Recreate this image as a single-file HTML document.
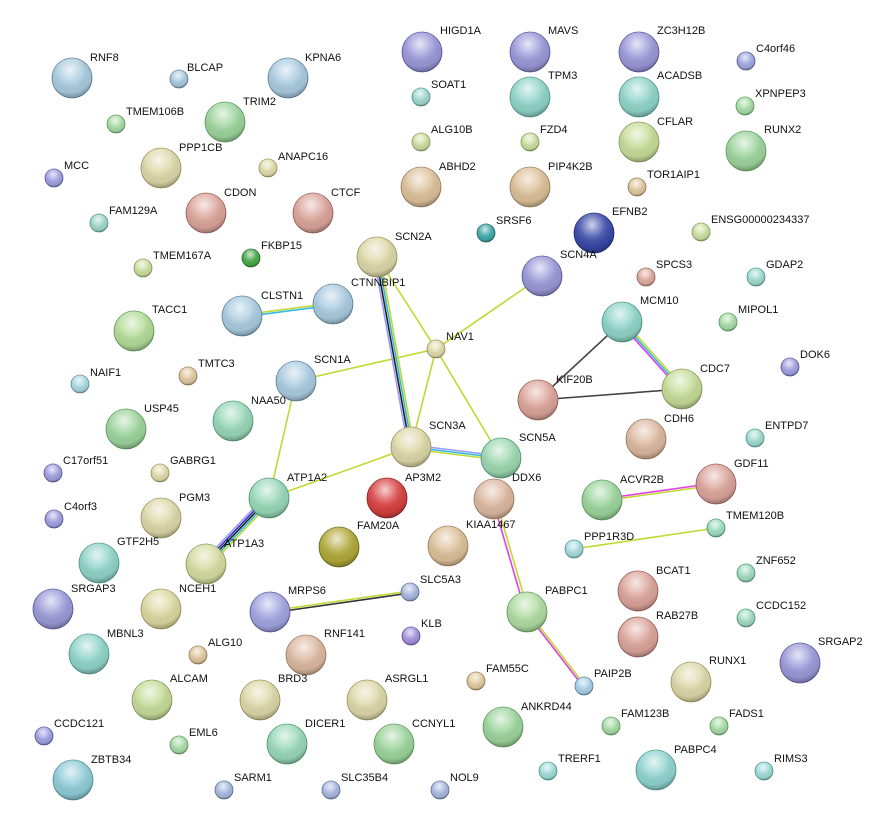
<!DOCTYPE html>
<html><head><meta charset="utf-8"><style>
html,body{margin:0;padding:0;background:#fff;}
svg{display:block;}
text{font-family:"Liberation Sans",Arial,sans-serif;font-size:11px;fill:#111;}
</style></head><body>
<svg width="870" height="835" viewBox="0 0 870 835" xmlns="http://www.w3.org/2000/svg">
<defs>
<radialGradient id="h" cx="0.45" cy="0.3" r="0.7">
<stop offset="0" stop-color="#fff" stop-opacity="0.75"/>
<stop offset="0.45" stop-color="#fff" stop-opacity="0.15"/>
<stop offset="0.8" stop-color="#000" stop-opacity="0.05"/>
<stop offset="1" stop-color="#000" stop-opacity="0.3"/>
</radialGradient>
</defs>
<g fill="none" stroke-width="1.6">
<g stroke="#c0d830">
<line x1="377" y1="257" x2="436" y2="349"/>
<line x1="542" y1="276" x2="436" y2="349"/>
<line x1="296" y1="381" x2="436" y2="349"/>
<line x1="436" y1="349" x2="411" y2="447"/>
<line x1="436" y1="349" x2="501" y2="458"/>
<line x1="411" y1="447" x2="269" y2="498"/>
<line x1="296" y1="381" x2="269" y2="498"/>
<line x1="574" y1="549" x2="716" y2="528"/>
</g>
<line x1="374.05" y1="257.53" x2="408.05" y2="447.53" stroke="#9a9aff"/>
<line x1="376" y1="257.2" x2="410" y2="447.2" stroke="#222"/>
<line x1="378" y1="256.8" x2="412" y2="446.8" stroke="#30b8e0"/>
<line x1="379.95" y1="256.47" x2="413.95" y2="446.47" stroke="#c0d830"/>
<line x1="411.24" y1="445.01" x2="501.24" y2="456.01" stroke="#9a9aff"/>
<line x1="411" y1="447" x2="501" y2="458" stroke="#30b8e0"/>
<line x1="410.76" y1="448.99" x2="500.76" y2="459.99" stroke="#c0d830"/>
<line x1="241.87" y1="315.01" x2="332.87" y2="303.01" stroke="#c0d830"/>
<line x1="242.13" y1="316.99" x2="333.13" y2="304.99" stroke="#30b8e0"/>
<line x1="266.12" y1="495.24" x2="203.12" y2="561.24" stroke="#9a9aff"/>
<line x1="267.56" y1="496.62" x2="204.56" y2="562.62" stroke="#3030c0"/>
<line x1="269" y1="498" x2="206" y2="564" stroke="#222"/>
<line x1="270.44" y1="499.38" x2="207.44" y2="565.38" stroke="#30b8e0"/>
<line x1="271.88" y1="500.76" x2="208.88" y2="566.76" stroke="#c0d830"/>
<line x1="269.86" y1="611.01" x2="409.86" y2="591.01" stroke="#c0d830"/>
<line x1="270.14" y1="612.99" x2="410.14" y2="592.99" stroke="#333"/>
<line x1="620.51" y1="323.33" x2="680.51" y2="390.33" stroke="#e040e0"/>
<line x1="622" y1="322" x2="682" y2="389" stroke="#30b8e0"/>
<line x1="623.49" y1="320.67" x2="683.49" y2="387.67" stroke="#c0d830"/>
<line x1="622" y1="322" x2="538" y2="400" stroke="#444"/>
<line x1="538" y1="400" x2="682" y2="389" stroke="#444"/>
<line x1="601.86" y1="499.01" x2="715.86" y2="483.01" stroke="#e040e0"/>
<line x1="602.14" y1="500.99" x2="716.14" y2="484.99" stroke="#c0d830"/>
<line x1="492.56" y1="499.42" x2="525.56" y2="612.42" stroke="#e040e0"/>
<line x1="495.44" y1="498.58" x2="528.44" y2="611.58" stroke="#c0d830"/>
<line x1="526.21" y1="612.61" x2="583.21" y2="686.61" stroke="#e040e0"/>
<line x1="527.79" y1="611.39" x2="584.79" y2="685.39" stroke="#c0d830"/>
</g>
<g stroke-width="0.8">
<circle cx="72" cy="78" r="20" fill="#a9cbe0" stroke="#5a7f95"/>
<circle cx="179" cy="79" r="9" fill="#a9cbe0" stroke="#5a7f95"/>
<circle cx="288" cy="78" r="20" fill="#a9cbe0" stroke="#5a7f95"/>
<circle cx="422" cy="52" r="20" fill="#9a98d8" stroke="#55539a"/>
<circle cx="530" cy="52" r="20" fill="#9a98d8" stroke="#55539a"/>
<circle cx="639" cy="52" r="20" fill="#9a98d8" stroke="#55539a"/>
<circle cx="746" cy="61" r="9" fill="#a0a8e0" stroke="#55539a"/>
<circle cx="421" cy="97" r="9" fill="#a0d8d0" stroke="#4a948a"/>
<circle cx="530" cy="97" r="20" fill="#8fd4c8" stroke="#4a948a"/>
<circle cx="639" cy="97" r="20" fill="#8fd4c8" stroke="#4a948a"/>
<circle cx="745" cy="106" r="9" fill="#a8dca8" stroke="#5a985a"/>
<circle cx="116" cy="124" r="9" fill="#a8dca8" stroke="#5a985a"/>
<circle cx="225" cy="122" r="20" fill="#9cd49c" stroke="#5a985a"/>
<circle cx="746" cy="151" r="20" fill="#9cd49c" stroke="#5a985a"/>
<circle cx="421" cy="142" r="9" fill="#cce0a0" stroke="#84985a"/>
<circle cx="530" cy="142" r="9" fill="#cce0a0" stroke="#84985a"/>
<circle cx="639" cy="142" r="20" fill="#c6dc98" stroke="#84985a"/>
<circle cx="54" cy="178" r="9" fill="#a0a0e0" stroke="#55539a"/>
<circle cx="161" cy="168" r="20" fill="#ddd8a8" stroke="#98925a"/>
<circle cx="268" cy="168" r="9" fill="#e0dcac" stroke="#98925a"/>
<circle cx="421" cy="187" r="20" fill="#dcc098" stroke="#987a5a"/>
<circle cx="530" cy="187" r="20" fill="#dcc098" stroke="#987a5a"/>
<circle cx="637" cy="187" r="9" fill="#e0c8a0" stroke="#987a5a"/>
<circle cx="99" cy="223" r="9" fill="#a0d8c8" stroke="#4a948a"/>
<circle cx="206" cy="213" r="20" fill="#dba49a" stroke="#985a55"/>
<circle cx="313" cy="213" r="20" fill="#dba49a" stroke="#985a55"/>
<circle cx="486" cy="233" r="9" fill="#40a8a8" stroke="#206868"/>
<circle cx="594" cy="233" r="20" fill="#3848a8" stroke="#202868"/>
<circle cx="701" cy="232" r="9" fill="#cce0a0" stroke="#84985a"/>
<circle cx="251" cy="258" r="9" fill="#48a848" stroke="#286828"/>
<circle cx="143" cy="268" r="9" fill="#cce0a0" stroke="#84985a"/>
<circle cx="377" cy="257" r="20" fill="#ddd8a8" stroke="#98925a"/>
<circle cx="542" cy="276" r="20" fill="#9a98d8" stroke="#55539a"/>
<circle cx="646" cy="277" r="9" fill="#e0aca0" stroke="#985a55"/>
<circle cx="756" cy="277" r="9" fill="#a0dcd0" stroke="#4a948a"/>
<circle cx="242" cy="316" r="20" fill="#a9cbe0" stroke="#5a7f95"/>
<circle cx="333" cy="304" r="20" fill="#a9cbe0" stroke="#5a7f95"/>
<circle cx="134" cy="331" r="20" fill="#b4dc98" stroke="#5a985a"/>
<circle cx="622" cy="322" r="20" fill="#8fd4c8" stroke="#4a948a"/>
<circle cx="728" cy="322" r="9" fill="#a8dca8" stroke="#5a985a"/>
<circle cx="436" cy="349" r="9" fill="#e0dcac" stroke="#98925a"/>
<circle cx="80" cy="384" r="9" fill="#a8d8e0" stroke="#5a8f95"/>
<circle cx="188" cy="376" r="9" fill="#e0c8a0" stroke="#987a5a"/>
<circle cx="296" cy="381" r="20" fill="#a9cbe0" stroke="#5a7f95"/>
<circle cx="790" cy="367" r="9" fill="#a0a0e0" stroke="#55539a"/>
<circle cx="682" cy="389" r="20" fill="#c6dc98" stroke="#84985a"/>
<circle cx="538" cy="400" r="20" fill="#dba49a" stroke="#985a55"/>
<circle cx="126" cy="429" r="20" fill="#9cd49c" stroke="#5a985a"/>
<circle cx="233" cy="421" r="20" fill="#98d8b8" stroke="#4a9470"/>
<circle cx="411" cy="447" r="20" fill="#ddd8a8" stroke="#98925a"/>
<circle cx="646" cy="439" r="20" fill="#dcb8a0" stroke="#987a5a"/>
<circle cx="755" cy="438" r="9" fill="#a0dcd0" stroke="#4a948a"/>
<circle cx="53" cy="473" r="9" fill="#a0a0e0" stroke="#55539a"/>
<circle cx="160" cy="473" r="9" fill="#e0dcac" stroke="#98925a"/>
<circle cx="501" cy="458" r="20" fill="#9cd8b0" stroke="#4a9470"/>
<circle cx="716" cy="484" r="20" fill="#dba49a" stroke="#985a55"/>
<circle cx="269" cy="498" r="20" fill="#98d8b8" stroke="#4a9470"/>
<circle cx="387" cy="498" r="20" fill="#d84040" stroke="#882020"/>
<circle cx="494" cy="499" r="20" fill="#dcb8a0" stroke="#987a5a"/>
<circle cx="602" cy="500" r="20" fill="#9cd49c" stroke="#5a985a"/>
<circle cx="54" cy="519" r="9" fill="#a0a0e0" stroke="#55539a"/>
<circle cx="161" cy="518" r="20" fill="#ddd8a8" stroke="#98925a"/>
<circle cx="716" cy="528" r="9" fill="#a0dcc0" stroke="#4a9470"/>
<circle cx="339" cy="547" r="20" fill="#b0a838" stroke="#686418"/>
<circle cx="448" cy="546" r="20" fill="#dcc098" stroke="#987a5a"/>
<circle cx="574" cy="549" r="9" fill="#a8dce0" stroke="#4a948a"/>
<circle cx="99" cy="563" r="20" fill="#8fd4c8" stroke="#4a948a"/>
<circle cx="206" cy="564" r="20" fill="#d4dca0" stroke="#84985a"/>
<circle cx="746" cy="573" r="9" fill="#a0dcc0" stroke="#4a9470"/>
<circle cx="53" cy="609" r="20" fill="#9a9ad8" stroke="#55539a"/>
<circle cx="161" cy="609" r="20" fill="#dcd8a0" stroke="#98925a"/>
<circle cx="270" cy="612" r="20" fill="#a0a4e0" stroke="#55539a"/>
<circle cx="410" cy="592" r="9" fill="#a8b8e0" stroke="#5a6f95"/>
<circle cx="638" cy="591" r="20" fill="#dba49a" stroke="#985a55"/>
<circle cx="527" cy="612" r="20" fill="#b0dca0" stroke="#5a985a"/>
<circle cx="746" cy="618" r="9" fill="#a0dcc0" stroke="#4a9470"/>
<circle cx="411" cy="636" r="9" fill="#a890e0" stroke="#55539a"/>
<circle cx="638" cy="637" r="20" fill="#dba49a" stroke="#985a55"/>
<circle cx="89" cy="654" r="20" fill="#8fd4c8" stroke="#4a948a"/>
<circle cx="306" cy="655" r="20" fill="#dcb8a0" stroke="#987a5a"/>
<circle cx="800" cy="663" r="20" fill="#9a98d8" stroke="#55539a"/>
<circle cx="198" cy="655" r="9" fill="#e0c8a0" stroke="#987a5a"/>
<circle cx="476" cy="681" r="9" fill="#e0cca0" stroke="#987a5a"/>
<circle cx="584" cy="686" r="9" fill="#a8d0e8" stroke="#5a7f95"/>
<circle cx="691" cy="682" r="20" fill="#ddd8a8" stroke="#98925a"/>
<circle cx="152" cy="700" r="20" fill="#c6dc98" stroke="#84985a"/>
<circle cx="260" cy="700" r="20" fill="#ddd8a8" stroke="#98925a"/>
<circle cx="367" cy="700" r="20" fill="#ddd8a8" stroke="#98925a"/>
<circle cx="503" cy="727" r="20" fill="#9cd49c" stroke="#5a985a"/>
<circle cx="611" cy="726" r="9" fill="#a8dca8" stroke="#5a985a"/>
<circle cx="719" cy="726" r="9" fill="#a8dca8" stroke="#5a985a"/>
<circle cx="44" cy="736" r="9" fill="#a0a0e0" stroke="#55539a"/>
<circle cx="179" cy="745" r="9" fill="#a8dca8" stroke="#5a985a"/>
<circle cx="287" cy="744" r="20" fill="#98d8b8" stroke="#4a9470"/>
<circle cx="394" cy="744" r="20" fill="#9cd49c" stroke="#5a985a"/>
<circle cx="73" cy="780" r="20" fill="#8fccd8" stroke="#4a8a95"/>
<circle cx="548" cy="771" r="9" fill="#a0dcd8" stroke="#4a948a"/>
<circle cx="656" cy="770" r="20" fill="#8fd4d0" stroke="#4a948a"/>
<circle cx="764" cy="771" r="9" fill="#a0dcd8" stroke="#4a948a"/>
<circle cx="224" cy="790" r="9" fill="#a8b8e0" stroke="#5a6f95"/>
<circle cx="331" cy="790" r="9" fill="#a8b8e0" stroke="#5a6f95"/>
<circle cx="440" cy="790" r="9" fill="#a8b8e0" stroke="#5a6f95"/>
</g>
<g fill="url(#h)">
<circle cx="72" cy="78" r="20"/><circle cx="179" cy="79" r="9"/><circle cx="288" cy="78" r="20"/><circle cx="422" cy="52" r="20"/><circle cx="530" cy="52" r="20"/><circle cx="639" cy="52" r="20"/><circle cx="746" cy="61" r="9"/><circle cx="421" cy="97" r="9"/><circle cx="530" cy="97" r="20"/><circle cx="639" cy="97" r="20"/><circle cx="745" cy="106" r="9"/><circle cx="116" cy="124" r="9"/><circle cx="225" cy="122" r="20"/><circle cx="746" cy="151" r="20"/><circle cx="421" cy="142" r="9"/><circle cx="530" cy="142" r="9"/><circle cx="639" cy="142" r="20"/><circle cx="54" cy="178" r="9"/><circle cx="161" cy="168" r="20"/><circle cx="268" cy="168" r="9"/><circle cx="421" cy="187" r="20"/><circle cx="530" cy="187" r="20"/><circle cx="637" cy="187" r="9"/><circle cx="99" cy="223" r="9"/><circle cx="206" cy="213" r="20"/><circle cx="313" cy="213" r="20"/><circle cx="486" cy="233" r="9"/><circle cx="594" cy="233" r="20"/><circle cx="701" cy="232" r="9"/><circle cx="251" cy="258" r="9"/><circle cx="143" cy="268" r="9"/><circle cx="377" cy="257" r="20"/><circle cx="542" cy="276" r="20"/><circle cx="646" cy="277" r="9"/><circle cx="756" cy="277" r="9"/><circle cx="242" cy="316" r="20"/><circle cx="333" cy="304" r="20"/><circle cx="134" cy="331" r="20"/><circle cx="622" cy="322" r="20"/><circle cx="728" cy="322" r="9"/><circle cx="436" cy="349" r="9"/><circle cx="80" cy="384" r="9"/><circle cx="188" cy="376" r="9"/><circle cx="296" cy="381" r="20"/><circle cx="790" cy="367" r="9"/><circle cx="682" cy="389" r="20"/><circle cx="538" cy="400" r="20"/><circle cx="126" cy="429" r="20"/><circle cx="233" cy="421" r="20"/><circle cx="411" cy="447" r="20"/><circle cx="646" cy="439" r="20"/><circle cx="755" cy="438" r="9"/><circle cx="53" cy="473" r="9"/><circle cx="160" cy="473" r="9"/><circle cx="501" cy="458" r="20"/><circle cx="716" cy="484" r="20"/><circle cx="269" cy="498" r="20"/><circle cx="387" cy="498" r="20"/><circle cx="494" cy="499" r="20"/><circle cx="602" cy="500" r="20"/><circle cx="54" cy="519" r="9"/><circle cx="161" cy="518" r="20"/><circle cx="716" cy="528" r="9"/><circle cx="339" cy="547" r="20"/><circle cx="448" cy="546" r="20"/><circle cx="574" cy="549" r="9"/><circle cx="99" cy="563" r="20"/><circle cx="206" cy="564" r="20"/><circle cx="746" cy="573" r="9"/><circle cx="53" cy="609" r="20"/><circle cx="161" cy="609" r="20"/><circle cx="270" cy="612" r="20"/><circle cx="410" cy="592" r="9"/><circle cx="638" cy="591" r="20"/><circle cx="527" cy="612" r="20"/><circle cx="746" cy="618" r="9"/><circle cx="411" cy="636" r="9"/><circle cx="638" cy="637" r="20"/><circle cx="89" cy="654" r="20"/><circle cx="306" cy="655" r="20"/><circle cx="800" cy="663" r="20"/><circle cx="198" cy="655" r="9"/><circle cx="476" cy="681" r="9"/><circle cx="584" cy="686" r="9"/><circle cx="691" cy="682" r="20"/><circle cx="152" cy="700" r="20"/><circle cx="260" cy="700" r="20"/><circle cx="367" cy="700" r="20"/><circle cx="503" cy="727" r="20"/><circle cx="611" cy="726" r="9"/><circle cx="719" cy="726" r="9"/><circle cx="44" cy="736" r="9"/><circle cx="179" cy="745" r="9"/><circle cx="287" cy="744" r="20"/><circle cx="394" cy="744" r="20"/><circle cx="73" cy="780" r="20"/><circle cx="548" cy="771" r="9"/><circle cx="656" cy="770" r="20"/><circle cx="764" cy="771" r="9"/><circle cx="224" cy="790" r="9"/><circle cx="331" cy="790" r="9"/><circle cx="440" cy="790" r="9"/>
</g>
<g>
<text x="90" y="61">RNF8</text><text x="187" y="71">BLCAP</text><text x="305" y="61">KPNA6</text>
<text x="440" y="34">HIGD1A</text><text x="548" y="34">MAVS</text><text x="657" y="34">ZC3H12B</text>
<text x="756" y="52">C4orf46</text><text x="431" y="88">SOAT1</text><text x="548" y="79">TPM3</text>
<text x="657" y="79">ACADSB</text><text x="755" y="97">XPNPEP3</text><text x="126" y="115">TMEM106B</text>
<text x="243" y="105">TRIM2</text><text x="764" y="133">RUNX2</text><text x="431" y="133">ALG10B</text>
<text x="540" y="133">FZD4</text><text x="657" y="125">CFLAR</text><text x="64" y="169">MCC</text>
<text x="179" y="151">PPP1CB</text><text x="278" y="160">ANAPC16</text><text x="439" y="170">ABHD2</text>
<text x="548" y="170">PIP4K2B</text><text x="647" y="178">TOR1AIP1</text><text x="109" y="214">FAM129A</text>
<text x="224" y="196">CDON</text><text x="331" y="196">CTCF</text><text x="496" y="224">SRSF6</text>
<text x="612" y="215">EFNB2</text><text x="711" y="223">ENSG00000234337</text><text x="261" y="249">FKBP15</text>
<text x="153" y="259">TMEM167A</text><text x="395" y="240">SCN2A</text><text x="560" y="258">SCN4A</text>
<text x="656" y="268">SPCS3</text><text x="766" y="268">GDAP2</text><text x="261" y="299">CLSTN1</text>
<text x="351" y="286">CTNNBIP1</text><text x="152" y="313">TACC1</text><text x="640" y="304">MCM10</text>
<text x="738" y="313">MIPOL1</text><text x="446" y="340">NAV1</text><text x="90" y="376">NAIF1</text>
<text x="198" y="367">TMTC3</text><text x="314" y="363">SCN1A</text><text x="800" y="358">DOK6</text>
<text x="700" y="372">CDC7</text><text x="556" y="383">KIF20B</text><text x="144" y="412">USP45</text>
<text x="251" y="404">NAA50</text><text x="429" y="429">SCN3A</text><text x="664" y="422">CDH6</text>
<text x="765" y="429">ENTPD7</text><text x="63" y="464">C17orf51</text><text x="170" y="464">GABRG1</text>
<text x="519" y="441">SCN5A</text><text x="734" y="467">GDF11</text><text x="287" y="481">ATP1A2</text>
<text x="405" y="481">AP3M2</text><text x="512" y="481">DDX6</text><text x="620" y="483">ACVR2B</text>
<text x="64" y="510">C4orf3</text><text x="179" y="501">PGM3</text><text x="726" y="519">TMEM120B</text>
<text x="357" y="529">FAM20A</text><text x="466" y="528">KIAA1467</text><text x="584" y="540">PPP1R3D</text>
<text x="117" y="545">GTF2H5</text><text x="224" y="547">ATP1A3</text><text x="756" y="564">ZNF652</text>
<text x="71" y="592">SRGAP3</text><text x="179" y="592">NCEH1</text><text x="288" y="594">MRPS6</text>
<text x="420" y="583">SLC5A3</text><text x="656" y="574">BCAT1</text><text x="545" y="594">PABPC1</text>
<text x="756" y="609">CCDC152</text><text x="421" y="627">KLB</text><text x="656" y="619">RAB27B</text>
<text x="107" y="637">MBNL3</text><text x="324" y="637">RNF141</text><text x="818" y="645">SRGAP2</text>
<text x="208" y="646">ALG10</text><text x="486" y="672">FAM55C</text><text x="594" y="677">PAIP2B</text>
<text x="709" y="664">RUNX1</text><text x="170" y="682">ALCAM</text><text x="278" y="682">BRD3</text>
<text x="385" y="682">ASRGL1</text><text x="521" y="710">ANKRD44</text><text x="621" y="717">FAM123B</text>
<text x="729" y="717">FADS1</text><text x="54" y="727">CCDC121</text><text x="189" y="736">EML6</text>
<text x="305" y="727">DICER1</text><text x="412" y="727">CCNYL1</text><text x="91" y="763">ZBTB34</text>
<text x="558" y="762">TRERF1</text><text x="674" y="753">PABPC4</text><text x="774" y="762">RIMS3</text>
<text x="234" y="781">SARM1</text><text x="341" y="781">SLC35B4</text><text x="450" y="781">NOL9</text>
</g>
</svg>
</body></html>
